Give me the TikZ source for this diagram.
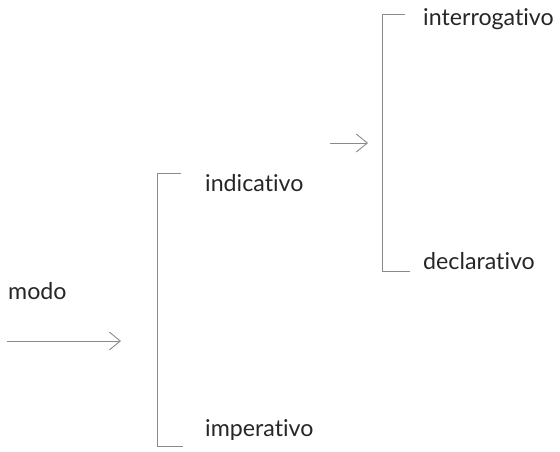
\documentclass[tikz,border=0pt]{standalone}
\usepackage{fontspec}
\setmainfont{Lato}[Ligatures={NoCommon}]
\usetikzlibrary{arrows.meta}
\definecolor{ink}{HTML}{262626}
\definecolor{rule}{HTML}{8A8A8A}
\begin{document}
\begin{tikzpicture}[x=1pt,y=-1pt,
  label/.style={anchor=base west,inner sep=0pt,text=ink,font=\fontsize{23.2}{25}\selectfont},
  bracket/.style={draw=rule,line width=0.9pt},
  pointer/.style={draw=rule,line width=0.9pt,-{Straight Barb[length=11pt,width=18pt,line width=0.9pt]}}]
\useasboundingbox (0,0) rectangle (560,451);

% root term and its arrow
\node[label] (modo) at (8,299) {modo};
\coordinate (a1s) at (7,341);
\coordinate (a1e) at (121,341);
\draw[pointer] (a1s) -- (a1e);

% first choice: indicativo / imperativo
\coordinate (b1t) at (157,173);
\coordinate (b1b) at (157,446);
\draw[bracket] (181,173) -- (b1t) -- (b1b) -- (183,446);
\node[label] (ind) at (205,191) {indicativo};
\node[label] (imp) at (205,436) {imperativo};

% second choice: interrogativo / declarativo
\coordinate (a2s) at (330,143);
\coordinate (a2e) at (368,143);
\draw[pointer] (a2s) -- (a2e);
\coordinate (b2t) at (382,14);
\coordinate (b2b) at (382,271);
\draw[bracket] (405,14) -- (b2t) -- (b2b) -- (410,271);
\node[label] (int) at (423,25) {interrogativo};
\node[label] (dec) at (423,269) {declarativo};
\end{tikzpicture}
\end{document}
